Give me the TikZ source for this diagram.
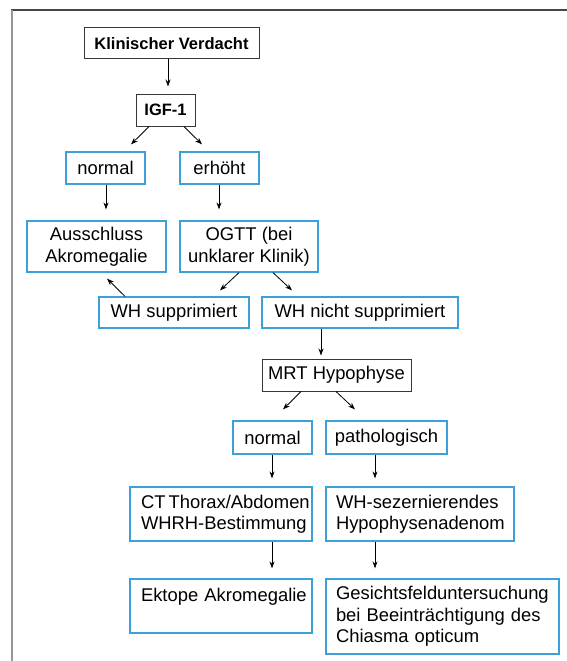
\documentclass[tikz,border=0pt]{standalone}
\usepackage{fontspec}
\setmainfont{Liberation Sans}
\usetikzlibrary{arrows.meta}
\definecolor{boxblue}{RGB}{62,160,216}
\definecolor{boxdark}{RGB}{55,55,55}
\definecolor{framegray}{RGB}{70,70,70}
\definecolor{framelight}{RGB}{150,150,150}
\tikzset{
  txt/.style={font=\fontsize{18.4}{21.5}\selectfont},
  boldtxt/.style={font=\fontsize{16.5}{20}\selectfont\bfseries},
  basebox/.style={draw, line width=1.2pt, inner sep=0pt, align=center},
  darkbox/.style={basebox, draw=boxdark, line width=1pt},
  bluebox/.style={basebox, draw=boxblue, txt},
  leftbox/.style={bluebox, align=left, inner xsep=11pt},
  arr/.style={-{Stealth[length=7pt,width=5pt]}, line width=0.8pt, black}
}
\begin{document}
\begin{tikzpicture}[x=1pt,y=-1pt]
\useasboundingbox (0,0) rectangle (567,661);
% frame
\draw[framegray, line width=1.5pt] (11,10) -- (567,10);
\draw[framelight, line width=2pt] (12,10) -- (12,661);

% nodes
\node[darkbox, boldtxt, minimum width=175pt, minimum height=31pt] (kv) at (171.5,43.5) {Klinischer Verdacht};
\node[darkbox, boldtxt, minimum width=59pt, minimum height=32pt] (igf) at (165.5,110) {IGF-1};
\node[bluebox, minimum width=79pt, minimum height=32pt] (n1) at (105.5,168) {normal};
\node[bluebox, minimum width=79pt, minimum height=32pt] (e1) at (219.5,168) {erhöht};
\node[bluebox, minimum width=139pt, minimum height=51pt] (aus) at (96.5,246.5) {Ausschluss\\Akromegalie};
\node[bluebox, minimum width=138pt, minimum height=51pt] (ogtt) at (249,246.5) {OGTT (bei\\unklarer Klinik)};
\node[bluebox, minimum width=150pt, minimum height=31pt] (whs) at (174,312.5) {WH supprimiert};
\node[bluebox, minimum width=196pt, minimum height=31pt] (whn) at (360,312.5) {WH nicht supprimiert};
\node[darkbox, txt, minimum width=149pt, minimum height=32pt] (mrt) at (336.5,375) {MRT Hypophyse};
\node[bluebox, minimum width=79pt, minimum height=33pt] (n2) at (272.5,437.5) {normal};
\node[bluebox, minimum width=121pt, minimum height=33pt] (path) at (386.5,437.5) {pathologisch};
\node[leftbox, text width=160pt, minimum height=54pt] (ct) at (221,514) {\mbox{CT\,Thorax/Abdomen}\\\mbox{WHRH-Bestimmung}};
\node[leftbox, inner xsep=10pt, text width=168pt, minimum height=54pt] (whsez) at (420,514) {\mbox{WH-sezernierendes}\\\mbox{Hypophysenadenom}};
\node[leftbox, text width=160pt, minimum height=54pt] (ekt) at (221,606) {\mbox{Ektope Akromegalie}\\~};
\node[leftbox, inner xsep=10pt, text width=213pt, minimum height=75pt] (ges) at (442.5,616.5) {\mbox{Gesichtsfelduntersuchung}\\\mbox{bei Beeinträchtigung des}\\\mbox{Chiasma opticum}};

% connectors
\draw[arr] ([xshift=-3.5pt]kv.south) -- ([xshift=2.5pt,yshift=7pt]igf.north);
\draw[arr] ([xshift=-16.5pt]igf.south) -- ([xshift=25.5pt,yshift=7pt]n1.north);
\draw[arr] ([xshift=18.5pt]igf.south) -- ([xshift=-17.5pt,yshift=7pt]e1.north);
\draw[arr] ([xshift=0.5pt]n1.south) -- ([xshift=9.5pt,yshift=11pt]aus.north);
\draw[arr] ([xshift=-0.5pt]e1.south) -- ([xshift=-30pt,yshift=11pt]ogtt.north);
\draw[arr] ([xshift=-10pt]ogtt.south) -- ([xshift=46pt,yshift=6pt]whs.north);
\draw[arr] ([xshift=24pt]ogtt.south) -- ([xshift=-68pt,yshift=6pt]whn.north);
\draw[arr] ([xshift=-49pt]whs.north) -- ([xshift=10.5pt,yshift=-6pt]aus.south);
\draw[arr] ([xshift=-39pt]whn.south) -- ([xshift=-15.5pt,yshift=3pt]mrt.north);
\draw[arr] ([xshift=-35.5pt]mrt.south) -- ([xshift=10.5pt,yshift=11pt]n2.north);
\draw[arr] ([xshift=-0.5pt]mrt.south) -- ([xshift=-31.5pt,yshift=11pt]path.north);
\draw[arr] ([xshift=-0.5pt]n2.south) -- ([xshift=51pt,yshift=8pt]ct.north);
\draw[arr] ([xshift=-11.5pt]path.south) -- ([xshift=-45pt,yshift=8pt]whsez.north);
\draw[arr] ([xshift=51pt]ct.south) -- ([xshift=51pt,yshift=10pt]ekt.north);
\draw[arr] ([xshift=-45pt]whsez.south) -- ([xshift=-67.5pt,yshift=10pt]ges.north);
\end{tikzpicture}
\end{document}
